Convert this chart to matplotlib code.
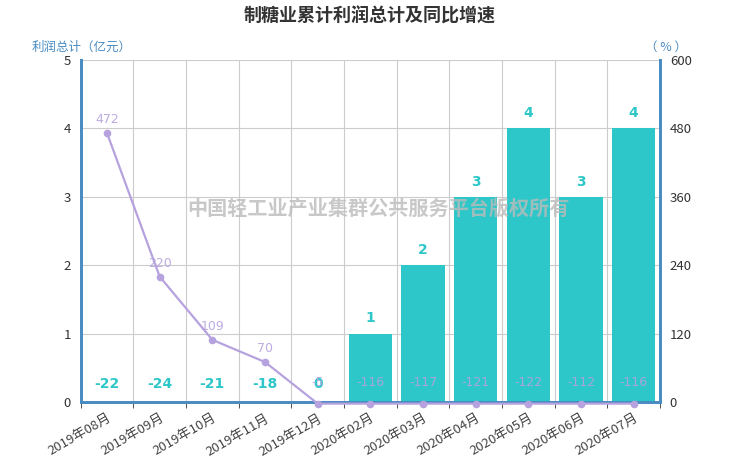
import matplotlib

matplotlib.use("Agg")
import matplotlib.pyplot as plt
import numpy as np

plt.rcParams["font.family"] = ["Noto Sans CJK SC", "DejaVu Sans"]

months = ["2019年08月", "2019年09月", "2019年10月", "2019年11月", "2019年12月",
          "2020年02月", "2020年03月", "2020年04月", "2020年05月", "2020年06月",
          "2020年07月"]
profit = [-22, -24, -21, -18, 0, 1, 2, 3, 4, 3, 4]
growth = [472, 220, 109, 70, -5, -116, -117, -121, -122, -112, -116]
left_ticks = [0, 1, 2, 3, 4, 5]
right_ticks = [0, 120, 240, 360, 480, 600]

BAR_C = "#2ec7c9"
LINE_C = "#b6a2de"
AXIS_C = "#4a8cc2"
GRID_C = "#cccccc"

fig = plt.figure(figsize=(7.4, 4.62), dpi=100)
ax = fig.add_axes([0.109, 0.130, 0.783, 0.740])
ax2 = ax.twinx()

x = np.arange(len(months))
prof = np.array(profit, dtype=float)
ax.bar(x, np.clip(prof, 0, None), width=0.82, color=BAR_C, zorder=2)
ax.set_xlim(-0.5, len(months) - 0.5)
ax.set_ylim(0, 5)
ax.set_yticks(left_ticks)

for xi, v in zip(x, profit):
    y = v + 0.12 if v > 0 else 0.16
    ax.text(xi, y, f"{v}", ha="center", va="bottom", color=BAR_C,
            fontsize=10, fontweight="bold", family="DejaVu Sans", zorder=5)

gr = np.array(growth, dtype=float)
ax2.plot(x, np.clip(gr, -3, None), color=LINE_C, lw=1.6, marker="o", ms=4.5,
         zorder=4, clip_on=False)
ax2.set_ylim(0, 600)
ax2.set_yticks(right_ticks)
for xi, v in zip(x, growth):
    y = v + 12 if v > 0 else 22
    ax2.text(xi, y, f"{v}", ha="center", va="bottom", color=LINE_C,
             fontsize=9, family="DejaVu Sans", alpha=0.9, zorder=5)

# grid
ax.set_xticks(x)
ax.set_xticklabels(months, rotation=30, ha="right", rotation_mode="anchor",
                   fontsize=9.5, color="#444444")
ax.set_xticks(np.arange(-0.5, len(months)), minor=True)
ax.tick_params(axis="x", which="major", length=0, pad=7)
ax.tick_params(axis="x", which="minor", length=4, color="#333333")
ax.grid(axis="x", which="minor", color=GRID_C, lw=0.8, zorder=0)
ax.grid(axis="y", color=GRID_C, lw=0.8, zorder=0)
ax.set_axisbelow(True)

ax.tick_params(axis="y", length=0, labelsize=9.5, labelcolor="#333333", pad=7)
ax2.tick_params(axis="y", length=0, labelsize=9.5, labelcolor="#333333", pad=7)

for a in (ax, ax2):
    a.spines["top"].set_visible(False)
    for side in ("left", "right", "bottom"):
        a.spines[side].set_color(AXIS_C)
        a.spines[side].set_linewidth(2)

fig.text(0.5, 0.965, "制糖业累计利润总计及同比增速", ha="center", va="center",
         fontsize=13, fontweight="bold", color="#333333")
fig.text(0.043, 0.897, "利润总计（亿元）", ha="left", va="center",
         fontsize=9, color=AXIS_C)
fig.text(0.872, 0.897, "（ % ）", ha="left", va="center", fontsize=9, color=AXIS_C)
fig.text(0.512, 0.55, "中国轻工业产业集群公共服务平台版权所有", ha="center",
         va="center", fontsize=14.5, fontweight="bold", color="#bbbbbb",
         alpha=0.8, zorder=10)

fig.savefig("out.png", dpi=100)
